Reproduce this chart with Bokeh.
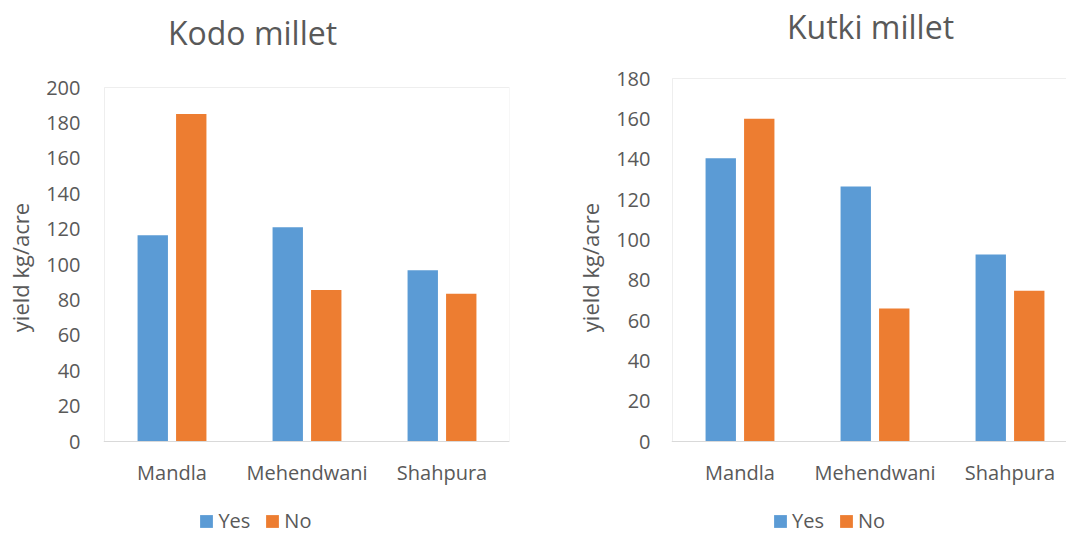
from bokeh.plotting import figure
from bokeh.models import (ColumnDataSource, FixedTicker, Legend, LegendItem, Range1d,
                          BoxAnnotation, Span)
from bokeh.core.properties import value
from bokeh.transform import dodge
from bokeh.layouts import row
from bokeh.embed import file_html
from bokeh.resources import INLINE

# Yield (kg/acre) by district, with ("Yes") and without ("No") the practice
districts = ["Mandla", "Mehendwani", "Shahpura"]
kodo_yes = [116.5, 121, 96.7]
kodo_no = [185, 85.6, 83.5]
kutki_yes = [140.5, 126.5, 92.7]
kutki_no = [160, 66, 74.7]
kodo_ticks = list(range(0, 201, 20))
kutki_ticks = list(range(0, 181, 20))
series_names = ["Yes", "No"]

FONT = "Open Sans"
TEXT = "#595959"
BLUE = "#5b9bd5"
ORANGE = "#ed7d31"
BOX = "#c6c6c6"
BASE = "#d9d9d9"

CAT_PX = 135      # pixel width of one district slot
ZERO_PX = 441     # pixel row of the value axis origin
HEIGHT = 534
BASELINE_SHIFT = 0.39   # svg text lands this many em below the requested baseline


def make_chart(title, yes, no, ticks, width, border_left, border_right, box_top_px,
               title_center_px, title_base_px, label_standoff, legend_x, open_right=False):
    idx = list(range(len(districts)))
    src = ColumnDataSource(dict(x=idx, yes=yes, no=no))

    # the frame covers the full height; map pixel rows to data so the
    # value axis runs from ZERO_PX (0) up to box_top_px (top tick)
    per_px = ticks[-1] / (ZERO_PX - box_top_px)
    y_start = -(HEIGHT - ZERO_PX) * per_px
    y_end = ticks[-1] + box_top_px * per_px
    frame_px = width - border_left - border_right
    x_start = -0.5 - 1.0 / CAT_PX
    x_end = x_start + frame_px / CAT_PX

    def y_at(py, size=0):
        return (ZERO_PX - py + BASELINE_SHIFT * size) * per_px

    def x_at(px):
        return x_start + (px - border_left) / CAT_PX

    p = figure(width=width, height=HEIGHT, output_backend="svg", toolbar_location=None,
               x_range=Range1d(x_start, x_end), y_range=Range1d(y_start, y_end),
               x_axis_location=None,
               min_border_left=border_left, min_border_right=border_right,
               min_border_top=0, min_border_bottom=0)
    p.background_fill_color = "white"
    p.border_fill_color = "white"
    p.outline_line_color = None
    p.grid.visible = False

    r_yes = p.vbar(x=dodge("x", -0.1426, range=p.x_range), top="yes", width=0.225,
                   source=src, fill_color=BLUE, line_color=None)
    r_no = p.vbar(x=dodge("x", 0.1426, range=p.x_range), top="no", width=0.225,
                  source=src, fill_color=ORANGE, line_color=None)

    # plot-area border and category baseline
    p.add_layout(BoxAnnotation(left=-0.5, right=(x_end + 1) if open_right else len(idx) - 0.5,
                               bottom=0, top=ticks[-1], fill_color=None,
                               line_color=BOX, line_width=1))
    p.add_layout(Span(location=0, dimension="width", line_color=BASE, line_width=1))

    # chart title
    p.text(x=[x_at(title_center_px)], y=[y_at(title_base_px, 32)], text=[title],
           text_align="center", text_baseline="alphabetic", text_color=TEXT,
           text_font=value(FONT), text_font_size=value("32px"))

    # category labels under each district group
    p.text(x=idx, y=[y_at(479.5, 20)] * len(idx), text=districts,
           text_align="center", text_baseline="alphabetic", text_color=TEXT,
           text_font=value(FONT), text_font_size=value("20px"))

    ya = p.yaxis[0]
    ya.ticker = FixedTicker(ticks=ticks)
    ya.axis_line_color = None
    ya.major_tick_line_color = None
    ya.minor_tick_line_color = None
    ya.major_tick_out = 0
    ya.major_tick_in = 0
    ya.major_label_standoff = label_standoff
    ya.major_label_text_font = FONT
    ya.major_label_text_font_size = "20px"
    ya.major_label_text_color = TEXT
    ya.axis_label = "yield kg/acre"
    ya.axis_label_text_font = FONT
    ya.axis_label_text_font_size = "22px"
    ya.axis_label_text_font_style = "normal"
    ya.axis_label_text_color = TEXT
    ya.axis_label_standoff = 8

    # legend swatches are inset by 10% of the glyph box, so 16px gives ~13px squares
    legend = Legend(items=[LegendItem(label=series_names[0], renderers=[r_yes]),
                           LegendItem(label=series_names[1], renderers=[r_no])],
                    orientation="horizontal", location=(legend_x - 1.6, 0),
                    glyph_width=16, glyph_height=16, label_standoff=4, spacing=14,
                    padding=0, margin=0, border_line_color=None,
                    background_fill_alpha=0, label_text_font=FONT,
                    label_text_font_size="20px", label_text_color=TEXT)
    p.add_layout(legend)
    return p


left = make_chart("Kodo millet", kodo_yes, kodo_no, kodo_ticks, width=540,
                  border_left=103, border_right=31, box_top_px=87,
                  title_center_px=252, title_base_px=44, label_standoff=23, legend_x=97)
right = make_chart("Kutki millet", kutki_yes, kutki_no, kutki_ticks, width=526,
                   border_left=131, border_right=0, box_top_px=78,
                   title_center_px=330, title_base_px=38, label_standoff=21, legend_x=102.7,
                   open_right=True)

layout = row(left, right)
open("out.html", "w").write(file_html(layout, INLINE))
